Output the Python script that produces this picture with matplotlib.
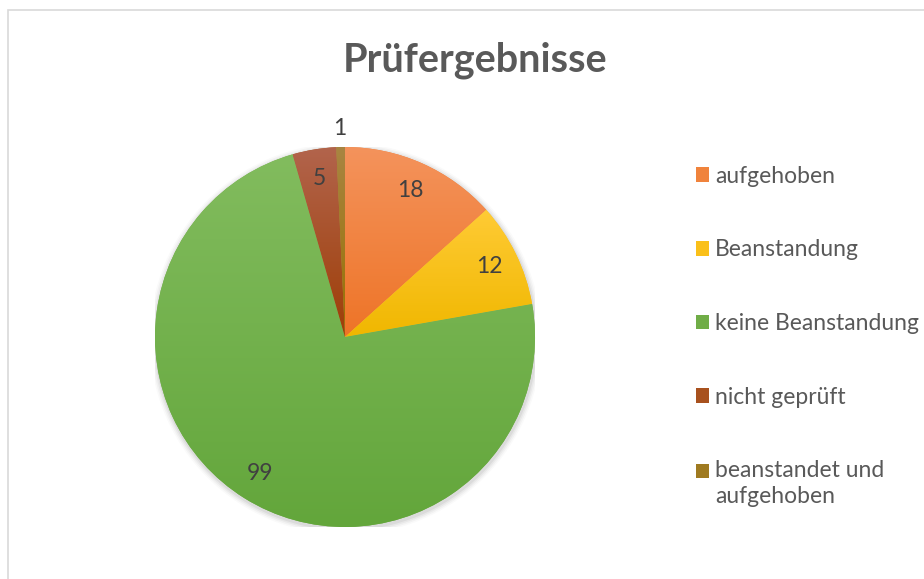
import numpy as np
import matplotlib
matplotlib.use("Agg")
import matplotlib.pyplot as plt
from matplotlib.colors import LinearSegmentedColormap
from matplotlib.patches import Rectangle

plt.rcParams['font.family'] = ['Lato', 'DejaVu Sans']

labels = ['aufgehoben', 'Beanstandung', 'keine Beanstandung', 'nicht geprüft',
          'beanstandet und\naufgehoben']
values = [18, 12, 99, 5, 1]
# (top, bottom) colours of the gradient fill
light = ['#F4935C', '#FFCB35', '#82BC5E', '#B2644C', '#A98542']
dark = ['#EE7427', '#F0B700', '#63A63B', '#9E3E06', '#977000']
mid = ['#F0833C', '#FAC01A', '#70AD47', '#A8511E', '#9F7A20']

fig = plt.figure(figsize=(9.24, 5.79), dpi=100)
ax = fig.add_axes([155 / 924, 52 / 579, 380 / 924, 380 / 579])

# chart area border
fig.patches.append(Rectangle((8 / 924, -0.1), 2, 1.1 - 10 / 579 + 0.0001,
                             transform=fig.transFigure, fill=False,
                             edgecolor='#D9D9D9', linewidth=1.2))

# soft shadow
for i, a in enumerate([0.05, 0.04, 0.03, 0.02]):
    ax.add_patch(plt.Circle((0.004, -0.01), 1.0 + 0.008 * (i + 1),
                            color='black', alpha=a, lw=0, zorder=0))

wedges, _ = ax.pie(values, colors=mid, startangle=90, counterclock=False,
                   radius=1, wedgeprops=dict(linewidth=0))

grad = np.linspace(0, 1, 256).reshape(-1, 1)
for w, lo, hi in zip(wedges, dark, light):
    ext = w.get_path().get_extents(w.get_patch_transform())
    cmap = LinearSegmentedColormap.from_list('g', [lo, hi])
    im = ax.imshow(grad, extent=(ext.x0, ext.x1, ext.y0, ext.y1), origin='lower',
                   cmap=cmap, aspect='auto', zorder=2)
    im.set_clip_path(w)

ax.set_xlim(-1, 1)
ax.set_ylim(-1, 1)
ax.set_aspect('equal')
ax.axis('off')

# data labels
for w, v in zip(wedges, values):
    ang = np.deg2rad((w.theta1 + w.theta2) / 2)
    r = 1.1 if v == 1 else 0.845
    ax.text(r * np.cos(ang), r * np.sin(ang), str(v), ha='center', va='center',
            fontsize=16.5, color='#404040', zorder=5, clip_on=False)

fig.text(475 / 924, 1 - 60 / 579, 'Prüfergebnisse', fontsize=28.5,
         fontweight='bold', color='#595959', ha='center', va='center')

leg = fig.legend(wedges, labels, loc='upper left',
                 bbox_to_anchor=(675 / 924, 1 - 145 / 579), frameon=False,
                 fontsize=16.5, handlelength=0.6, handleheight=0.6,
                 handletextpad=0.25, labelspacing=2.3, labelcolor='#595959')
leg.get_texts()[-1].set_linespacing(1.25)
# square of the two-line entry sits next to the first line
last = leg.legend_handles[-1]
last.set_y(last.get_y() + 9.5)

fig.savefig('out.png', dpi=100)
